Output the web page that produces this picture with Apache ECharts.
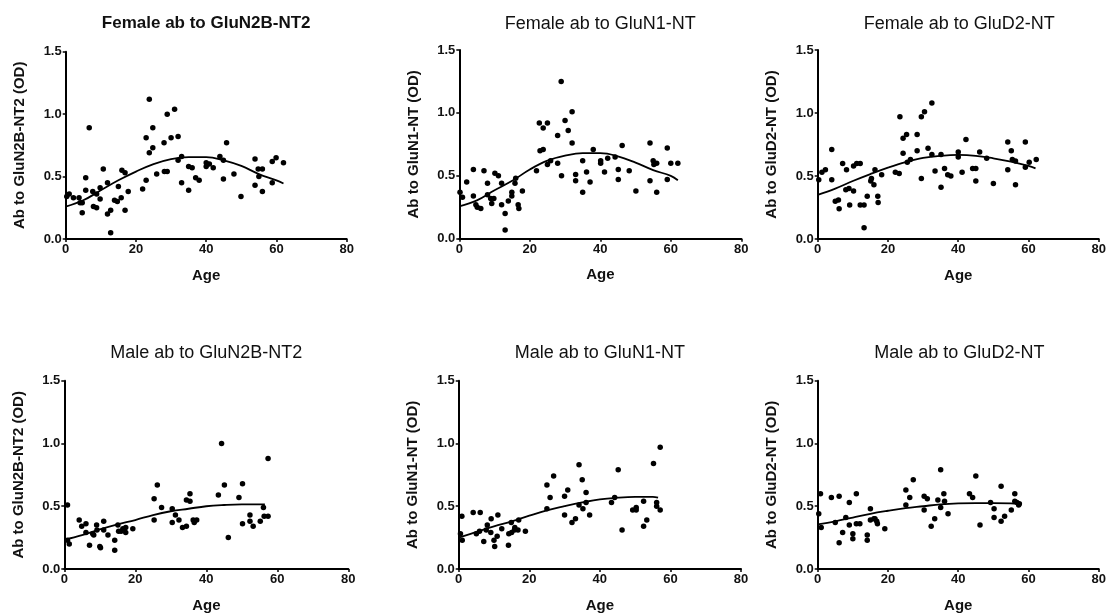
<!DOCTYPE html>
<html>
<head>
<meta charset="utf-8">
<script src="https://cdn.jsdelivr.net/npm/echarts@6/dist/echarts.min.js"></script>
<style>
html,body{margin:0;padding:0;background:#fff;}
#chart{width:1109px;height:614px;}
</style>
</head>
<body>
<div id="chart"></div>
<script>
// ---- Data (age, OD) ----
var femaleN2B = [[0.3,0.34],[1.0,0.36],[2.2,0.33],[3.8,0.33],[4.1,0.29],[4.7,0.29],[4.7,0.21],[5.7,0.49],[5.7,0.39],[6.7,0.89],[7.7,0.38],[7.9,0.26],[8.8,0.25],[8.8,0.36],[9.8,0.32],[9.8,0.41],[10.7,0.56],[11.9,0.45],[11.9,0.20],[12.8,0.23],[12.8,0.05],[13.9,0.31],[14.7,0.30],[15.0,0.42],[15.8,0.33],[16.0,0.55],[16.9,0.23],[16.9,0.53],[17.8,0.38],[21.9,0.40],[22.9,0.81],[22.9,0.47],[23.8,0.69],[23.8,1.12],[24.8,0.89],[24.8,0.73],[25.9,0.52],[28.0,0.77],[28.1,0.54],[28.9,0.54],[28.9,1.00],[30.0,0.81],[31.0,1.04],[32.0,0.82],[32.0,0.63],[33.0,0.66],[33.0,0.45],[35.0,0.39],[35.0,0.58],[36.0,0.57],[37.0,0.49],[38.0,0.47],[40.0,0.61],[40.0,0.58],[40.9,0.60],[42.0,0.57],[43.9,0.66],[44.9,0.63],[44.9,0.48],[45.8,0.77],[47.9,0.52],[49.9,0.34],[53.9,0.64],[53.9,0.43],[54.8,0.56],[55.0,0.50],[56.0,0.56],[56.0,0.38],[58.8,0.62],[58.8,0.45],[59.9,0.65],[62.0,0.61]];
var femaleN2BFit = [[0,0.26],[5,0.31],[10,0.39],[15,0.47],[20,0.54],[25,0.60],[30,0.64],[35,0.655],[40,0.655],[45,0.63],[50,0.585],[55,0.52],[60,0.47],[62,0.445]];

var femaleN1 = [[0.2,0.37],[0.9,0.33],[2.1,0.45],[4.0,0.55],[4.0,0.34],[4.7,0.27],[5.1,0.25],[6.1,0.24],[7.0,0.54],[8.0,0.44],[8.0,0.35],[8.9,0.32],[9.2,0.28],[9.8,0.32],[10.1,0.52],[11.1,0.50],[12.0,0.44],[12.0,0.27],[13.0,0.20],[13.0,0.07],[13.9,0.30],[14.9,0.34],[14.9,0.37],[15.8,0.44],[16.0,0.48],[16.7,0.27],[16.9,0.24],[17.9,0.38],[21.9,0.54],[22.7,0.92],[22.9,0.70],[23.8,0.88],[23.8,0.71],[25.0,0.92],[25.0,0.59],[25.9,0.62],[27.9,0.82],[27.9,0.60],[28.9,1.25],[29.0,0.50],[30.0,0.94],[30.9,0.86],[32.0,1.01],[32.0,0.76],[33.0,0.51],[33.0,0.46],[35.0,0.62],[35.0,0.37],[36.1,0.53],[37.1,0.45],[38.0,0.71],[40.1,0.62],[40.1,0.60],[41.2,0.53],[42.1,0.64],[44.2,0.65],[45.1,0.55],[45.1,0.47],[46.2,0.74],[48.2,0.54],[50.1,0.38],[54.1,0.76],[54.1,0.46],[55.0,0.62],[55.2,0.59],[56.0,0.60],[56.0,0.37],[59.0,0.72],[59.0,0.47],[60.0,0.60],[62.0,0.60]];
var femaleN1Fit = [[0,0.257],[5,0.305],[10,0.385],[15,0.46],[20,0.55],[25,0.62],[30,0.66],[35,0.68],[40,0.68],[45,0.655],[50,0.605],[55,0.545],[60,0.50],[62,0.465]];

var femaleD2 = [[0.3,0.47],[1.2,0.53],[2.2,0.55],[4.0,0.71],[4.0,0.47],[5.0,0.30],[5.9,0.31],[6.1,0.24],[7.1,0.60],[8.0,0.39],[8.2,0.55],[8.9,0.40],[9.1,0.27],[10.2,0.38],[10.2,0.58],[11.1,0.60],[12.1,0.60],[12.1,0.27],[13.2,0.27],[13.2,0.09],[14.1,0.34],[15.1,0.46],[15.3,0.48],[16.0,0.43],[16.3,0.55],[17.1,0.34],[17.2,0.29],[18.2,0.51],[22.1,0.53],[23.2,0.52],[23.4,0.97],[24.3,0.68],[24.3,0.80],[25.3,0.83],[25.5,0.61],[26.4,0.63],[28.3,0.83],[28.3,0.70],[29.5,0.48],[29.5,0.97],[30.4,1.01],[31.4,0.72],[32.5,1.08],[32.5,0.67],[33.4,0.54],[35.1,0.67],[35.1,0.41],[36.1,0.56],[37.0,0.51],[37.9,0.50],[40.0,0.69],[40.0,0.65],[41.1,0.53],[42.2,0.79],[44.1,0.56],[45.0,0.56],[45.0,0.46],[46.1,0.69],[48.1,0.64],[50.0,0.44],[54.1,0.77],[54.1,0.55],[55.1,0.70],[55.4,0.63],[56.3,0.62],[56.3,0.43],[59.1,0.77],[59.1,0.57],[60.2,0.61],[62.2,0.63]];
var femaleD2Fit = [[0,0.35],[5,0.40],[10,0.46],[15,0.515],[20,0.566],[25,0.61],[30,0.643],[35,0.66],[40,0.667],[45,0.66],[50,0.64],[55,0.615],[60,0.58],[62,0.56]];

var maleN2B = [[0.9,0.51],[0.9,0.23],[1.4,0.20],[4.2,0.39],[4.9,0.34],[6.1,0.36],[6.1,0.29],[7.1,0.19],[8.0,0.28],[8.3,0.27],[9.1,0.35],[9.2,0.31],[10.0,0.18],[10.2,0.17],[11.1,0.38],[11.1,0.31],[12.3,0.27],[14.2,0.23],[14.2,0.15],[15.1,0.35],[15.3,0.30],[16.0,0.30],[16.5,0.32],[17.3,0.29],[17.3,0.33],[19.3,0.32],[25.3,0.39],[25.3,0.56],[26.2,0.67],[27.4,0.49],[30.4,0.48],[30.4,0.37],[31.3,0.43],[32.3,0.39],[33.3,0.33],[34.4,0.34],[34.4,0.55],[35.4,0.54],[35.4,0.60],[36.3,0.39],[36.6,0.37],[37.3,0.39],[43.4,0.59],[44.3,1.00],[45.1,0.67],[46.2,0.25],[49.2,0.57],[50.2,0.68],[50.2,0.36],[52.3,0.43],[52.3,0.38],[53.2,0.34],[55.2,0.38],[56.1,0.49],[56.3,0.42],[57.4,0.42],[57.4,0.88]];
var maleN2BFit = [[0,0.233],[5,0.27],[10,0.315],[15,0.355],[20,0.39],[25,0.43],[30,0.46],[35,0.48],[40,0.50],[45,0.51],[50,0.515],[55,0.515],[56.5,0.515]];

var maleN1 = [[0.5,0.28],[0.9,0.42],[1.0,0.23],[4.1,0.45],[5.0,0.28],[5.9,0.30],[6.1,0.45],[7.1,0.22],[7.8,0.31],[8.1,0.35],[9.1,0.29],[9.2,0.40],[10.0,0.23],[10.2,0.18],[10.9,0.26],[11.1,0.43],[12.2,0.32],[14.1,0.19],[14.2,0.28],[14.9,0.37],[15.0,0.29],[15.8,0.31],[15.9,0.33],[16.8,0.31],[17.0,0.39],[18.9,0.30],[25.0,0.48],[25.0,0.67],[25.9,0.57],[26.9,0.74],[30.0,0.58],[30.0,0.43],[30.9,0.63],[32.1,0.37],[33.1,0.40],[34.1,0.83],[34.1,0.51],[35.0,0.71],[35.2,0.48],[36.1,0.61],[36.1,0.53],[37.1,0.43],[43.3,0.53],[44.2,0.57],[45.2,0.79],[46.3,0.31],[49.3,0.47],[50.3,0.49],[50.3,0.47],[52.4,0.54],[52.4,0.34],[53.3,0.39],[55.2,0.84],[56.1,0.53],[56.1,0.50],[57.1,0.97],[57.1,0.47]];
var maleN1Fit = [[0,0.25],[5,0.295],[10,0.34],[15,0.38],[20,0.425],[25,0.467],[30,0.50],[35,0.53],[40,0.555],[45,0.568],[50,0.574],[55,0.574],[56.5,0.568]];

var maleD2 = [[0.3,0.44],[0.8,0.60],[1.0,0.33],[3.9,0.57],[5.0,0.37],[6.1,0.58],[6.1,0.21],[7.1,0.29],[8.0,0.41],[9.0,0.53],[9.0,0.35],[10.0,0.28],[10.0,0.24],[11.0,0.60],[11.0,0.36],[12.0,0.36],[14.1,0.27],[14.1,0.23],[15.0,0.48],[15.0,0.39],[16.0,0.40],[16.3,0.40],[16.8,0.38],[17.0,0.36],[19.1,0.32],[25.1,0.63],[25.1,0.51],[26.2,0.57],[27.2,0.71],[30.3,0.58],[30.3,0.47],[31.2,0.56],[32.3,0.34],[33.3,0.40],[34.2,0.55],[35.0,0.79],[35.0,0.49],[35.9,0.60],[36.1,0.54],[37.1,0.44],[43.2,0.60],[44.1,0.57],[45.0,0.74],[46.2,0.35],[49.2,0.53],[50.2,0.48],[50.2,0.41],[52.2,0.38],[52.2,0.66],[53.2,0.42],[55.1,0.47],[56.1,0.60],[56.1,0.54],[56.7,0.53],[57.2,0.51],[57.4,0.52]];
var maleD2Fit = [[0,0.355],[5,0.38],[10,0.41],[15,0.44],[20,0.464],[25,0.485],[30,0.50],[35,0.515],[40,0.523],[45,0.525],[50,0.525],[55,0.523],[57,0.52]];

var panelTitles = ['Female ab to GluN2B-NT2','Female ab to GluN1-NT','Female ab to GluD2-NT','Male ab to GluN2B-NT2','Male ab to GluN1-NT','Male ab to GluD2-NT'];
var yNames = ['Ab to GluN2B-NT2 (OD)','Ab to GluN1-NT (OD)','Ab to GluD2-NT (OD)','Ab to GluN2B-NT2 (OD)','Ab to GluN1-NT (OD)','Ab to GluD2-NT (OD)'];
var xName = 'Age';
var xTicks = [0, 20, 40, 60, 80];
var yTicks = [0, 0.5, 1.0, 1.5];
var scatterSets = [femaleN2B, femaleN1, femaleD2, maleN2B, maleN1, maleD2];
var fitSets = [femaleN2BFit, femaleN1Fit, femaleD2Fit, maleN2BFit, maleN1Fit, maleD2Fit];

// ---- Layout ----
var grids = [
  {left: 65.7, top: 51.7, width: 281, height: 187.3},
  {left: 459.3, top: 50, width: 282, height: 188.7},
  {left: 817.7, top: 50, width: 283, height: 189},
  {left: 64.3, top: 380.7, width: 284, height: 188.3},
  {left: 458.7, top: 380.7, width: 282.3, height: 188.3},
  {left: 817.7, top: 380.7, width: 283.3, height: 188.3}
];
var titleTops = [15, 15, 15, 344, 344, 344];
var FONT = '"Liberation Sans", Arial, sans-serif';
var INK = '#111';

var option = {
  backgroundColor: '#fff',
  animation: false,
  title: [], grid: [], xAxis: [], yAxis: [], series: []
};

grids.forEach(function (g, i) {
  option.grid.push({left: g.left, top: g.top, width: g.width, height: g.height, containLabel: false});
  option.title.push({
    text: panelTitles[i],
    left: g.left + g.width / 2,
    top: titleTops[i],
    textAlign: 'center',
    padding: 0,
    textStyle: {fontFamily: FONT, fontSize: i === 0 ? 17 : 18, fontWeight: i === 0 ? 'bold' : 'normal', color: INK}
  });
  option.xAxis.push({
    type: 'value', gridIndex: i,
    min: xTicks[0], max: xTicks[xTicks.length - 1], interval: xTicks[1] - xTicks[0],
    name: xName, nameLocation: 'middle', nameGap: 29,
    nameTextStyle: {fontFamily: FONT, fontSize: 15, fontWeight: 'bold', color: INK},
    axisLine: {show: true, onZero: false, lineStyle: {color: '#000', width: 2}},
    axisTick: {show: true, length: 3, lineStyle: {color: '#000', width: 1.5}},
    axisLabel: {margin: 4, fontFamily: FONT, fontSize: 13, fontWeight: 'bold', color: INK},
    splitLine: {show: false}
  });
  option.yAxis.push({
    type: 'value', gridIndex: i,
    min: yTicks[0], max: yTicks[yTicks.length - 1], interval: yTicks[1] - yTicks[0],
    name: yNames[i], nameLocation: 'middle', nameGap: 38,
    nameTextStyle: {fontFamily: FONT, fontSize: 15, fontWeight: 'bold', color: INK},
    axisLine: {show: true, onZero: false, lineStyle: {color: '#000', width: 2}},
    axisTick: {show: true, length: 3, lineStyle: {color: '#000', width: 1.5}},
    axisLabel: {margin: 4, fontFamily: FONT, fontSize: 13, fontWeight: 'bold', color: INK,
      formatter: function (v) { return v.toFixed(1); }},
    splitLine: {show: false}
  });
  option.series.push({
    type: 'scatter', xAxisIndex: i, yAxisIndex: i,
    data: scatterSets[i], symbol: 'circle', symbolSize: 5.5,
    itemStyle: {color: '#000', opacity: 1}, silent: true
  });
  option.series.push({
    type: 'line', xAxisIndex: i, yAxisIndex: i,
    data: fitSets[i], smooth: 0.4, showSymbol: false, symbol: 'none',
    lineStyle: {color: '#000', width: 1.8}, silent: true
  });
});

var chart = echarts.init(document.getElementById('chart'), null, {renderer: 'canvas'});
chart.setOption(option);
</script>
</body>
</html>
